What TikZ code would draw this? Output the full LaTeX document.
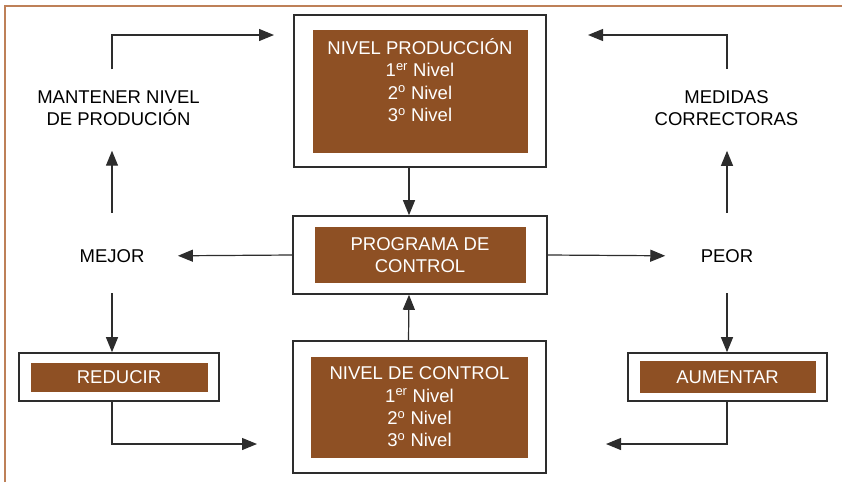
\documentclass[tikz,border=0pt]{standalone}
\usepackage{fontspec}
\setmainfont{Liberation Sans}
\usetikzlibrary{arrows.meta}
\definecolor{bark}{RGB}{142,80,36}
\definecolor{rim}{RGB}{190,128,88}
\definecolor{ink}{RGB}{45,45,45}

\begin{document}
\begin{tikzpicture}[x=1pt,y=-1pt,
  shell/.style={draw=ink,line width=1.6pt,fill=white,inner sep=0pt},
  panel/.style={fill=bark,text=white,align=center,inner sep=0pt,font=\fontsize{18.5}{22.3}\selectfont},
  tag/.style={align=center,font=\fontsize{18.5}{21.5}\selectfont},
  flow/.style={draw=ink,line width=1.2pt,-{Triangle[length=15pt,width=12pt]}}]
\useasboundingbox (0,0) rectangle (842,482);
\draw[rim,line width=2pt] (5,482) -- (5,6) -- (842,6);

\node[shell,minimum width=252,minimum height=152] (prodout) at (420,91) {};
\node[panel,minimum width=215,minimum height=123] (prodin) at (prodout.center)
  {NIVEL PRODUCCIÓN\\1\textsuperscript{er} Nivel\\2\textsuperscript{o} Nivel\\3\textsuperscript{o} Nivel\\\mbox{}};
\node[shell,minimum width=254,minimum height=78] (progout) at (420,255) {};
\node[panel,minimum width=211,minimum height=56] (progin) at (progout.center) {PROGRAMA DE\\CONTROL};
\node[shell,minimum width=253,minimum height=132] (ctrlout) at (419.5,407) {};
\node[panel,minimum width=217,minimum height=101] (ctrlin) at (ctrlout.center)
  {NIVEL DE CONTROL\\1\textsuperscript{er} Nivel\\2\textsuperscript{o} Nivel\\3\textsuperscript{o} Nivel};
\node[shell,minimum width=200,minimum height=48] (reduout) at (119,377) {};
\node[panel,minimum width=177,minimum height=29] (reduin) at (reduout.center) {REDUCIR};
\node[shell,minimum width=199,minimum height=48] (aumout) at (727.5,377) {};
\node[panel,minimum width=176,minimum height=32] (aumin) at (aumout.center) {AUMENTAR};

\node[tag] (mantener) at (118.5,108) {MANTENER NIVEL\\DE PRODUCIÓN};
\node[tag] (medidas) at (726.5,108) {MEDIDAS\\CORRECTORAS};
\node[tag] (mejor) at (112,256) {MEJOR};
\node[tag] (peor) at (727,256) {PEOR};

\coordinate (keepend) at (274,35);
\coordinate (fixend) at (588,35);
\coordinate (reduend) at (257,444);
\coordinate (aumend) at (606,444);

\draw[flow,shorten <=18pt] (mejor |- mantener.north) |- (keepend);
\draw[flow,shorten <=18pt] (peor |- medidas.north) |- (fixend);
\draw[flow,shorten <=33pt,shorten >=22pt] (mejor.north) -- (mejor |- mantener.south);
\draw[flow,shorten <=33pt,shorten >=22pt] (peor.north) -- (peor |- medidas.south);
\draw[flow,shorten <=27pt] (mejor.south) -- (mejor |- reduout.north);
\draw[flow,shorten <=27pt] (peor.south) -- (peor |- aumout.north);
\draw[flow] ([xshift=-11]prodout.south) -- ([xshift=-11]progout.north);
\draw[flow] ([xshift=-11]ctrlout.north) -- ([xshift=-11]progout.south);
\draw[flow,shorten >=30pt] (progout.west) -- (mejor.east);
\draw[flow,shorten >=32pt] (progout.east) -- (peor.west);
\draw[flow] (mejor |- reduout.south) |- (reduend);
\draw[flow] (peor |- aumout.south) |- (aumend);
\end{tikzpicture}
\end{document}
